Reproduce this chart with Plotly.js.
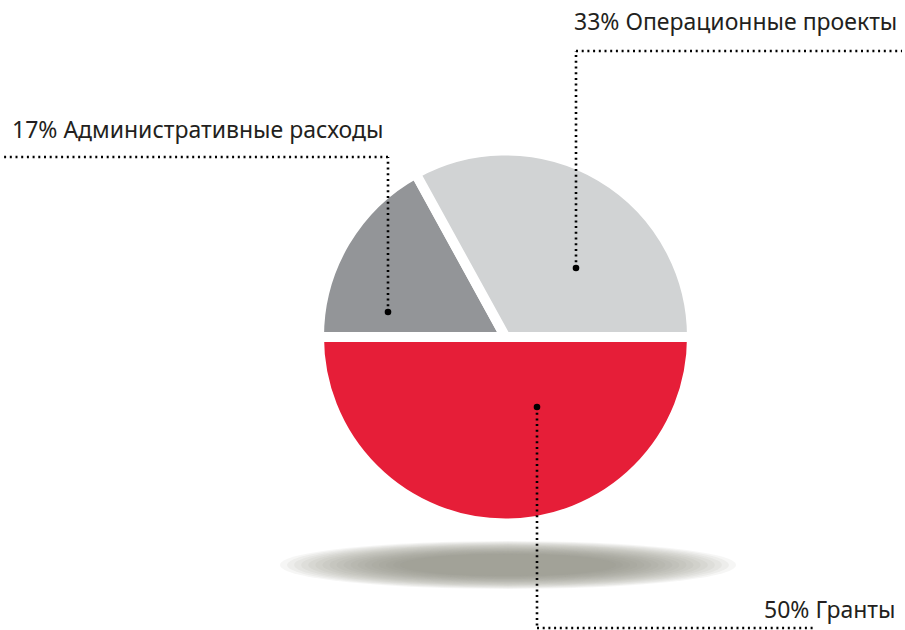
<!DOCTYPE html>
<html>
<head>
<meta charset="utf-8">
<script src="https://cdn.plot.ly/plotly-3.0.1.min.js"></script>
<style>html,body{margin:0;padding:0;background:#fff}#chart{width:905px;height:630px}</style>
</head>
<body>
<div id="chart"></div>
<script>
// Data
const categories = ['Гранты', 'Административные расходы', 'Операционные проекты'];
const shares = [50, 17, 33];
const sliceColors = ['#E61E38', '#939598', '#D1D3D4'];

const W = 905, H = 630;
const px = x => x / W;
const py = y => 1 - y / H;

// leader geometry in pixels
const leaders = [
  {dot: [537, 407], corner: 628, end: 815, label: [897, 609], anchor: 'right'},
  {dot: [388, 312], corner: 157, end: 3, label: [10, 129], anchor: 'left'},
  {dot: [576, 268], corner: 51, end: 902, label: [572, 21], anchor: 'left'}
];

const shapes = [];
// soft shadow under the pie
const nSteps = 18;
for (let k = 0; k < nSteps; k++) {
  const t = k / (nSteps - 1);
  const rx = 228 - t * 120;
  const ry = 24 - t * 13;
  shapes.push({type: 'circle', xref: 'paper', yref: 'paper', layer: 'below',
    x0: px(508 - rx), x1: px(508 + rx), y0: py(565 + ry), y1: py(565 - ry),
    fillcolor: '#8a8784', opacity: 0.078, line: {width: 0}});
}

const annotations = [];
leaders.forEach((L, i) => {
  const dash = '2px,3.7px';
  shapes.push({type: 'line', xref: 'paper', yref: 'paper',
    x0: px(L.dot[0]), y0: py(L.dot[1]), x1: px(L.dot[0]), y1: py(L.corner),
    line: {color: '#000', width: 2.6, dash: dash}});
  shapes.push({type: 'line', xref: 'paper', yref: 'paper',
    x0: px(L.dot[0]), y0: py(L.corner), x1: px(L.end), y1: py(L.corner),
    line: {color: '#000', width: 2.6, dash: dash}});
  const r = 3.3;
  shapes.push({type: 'circle', xref: 'paper', yref: 'paper',
    x0: px(L.dot[0] - r), x1: px(L.dot[0] + r), y0: py(L.dot[1] + r), y1: py(L.dot[1] - r),
    fillcolor: '#000', line: {width: 0}});
  annotations.push({
    xref: 'paper', yref: 'paper', x: px(L.label[0]), y: py(L.label[1]),
    xanchor: L.anchor, yanchor: 'middle', showarrow: false,
    text: shares[i] + '% ' + categories[i],
    font: {family: 'Noto Sans, sans-serif', size: 23, color: '#231F20'}
  });
});

const R = 186.5, cx = 505.5, cy = 337;
const trace = {
  type: 'pie',
  labels: categories,
  values: shares,
  sort: false,
  direction: 'clockwise',
  rotation: 90,
  textinfo: 'none',
  hoverinfo: 'label+percent',
  marker: {colors: sliceColors, line: {color: '#ffffff', width: 10}},
  domain: {x: [px(cx - R), px(cx + R)], y: [py(cy + R), py(cy - R)]},
  showlegend: false
};

Plotly.newPlot('chart', [trace], {
  width: W, height: H,
  margin: {l: 0, r: 0, t: 0, b: 0},
  paper_bgcolor: '#ffffff',
  plot_bgcolor: '#ffffff',
  showlegend: false,
  shapes: shapes,
  annotations: annotations
}, {displayModeBar: false, staticPlot: true});
</script>
</body>
</html>
